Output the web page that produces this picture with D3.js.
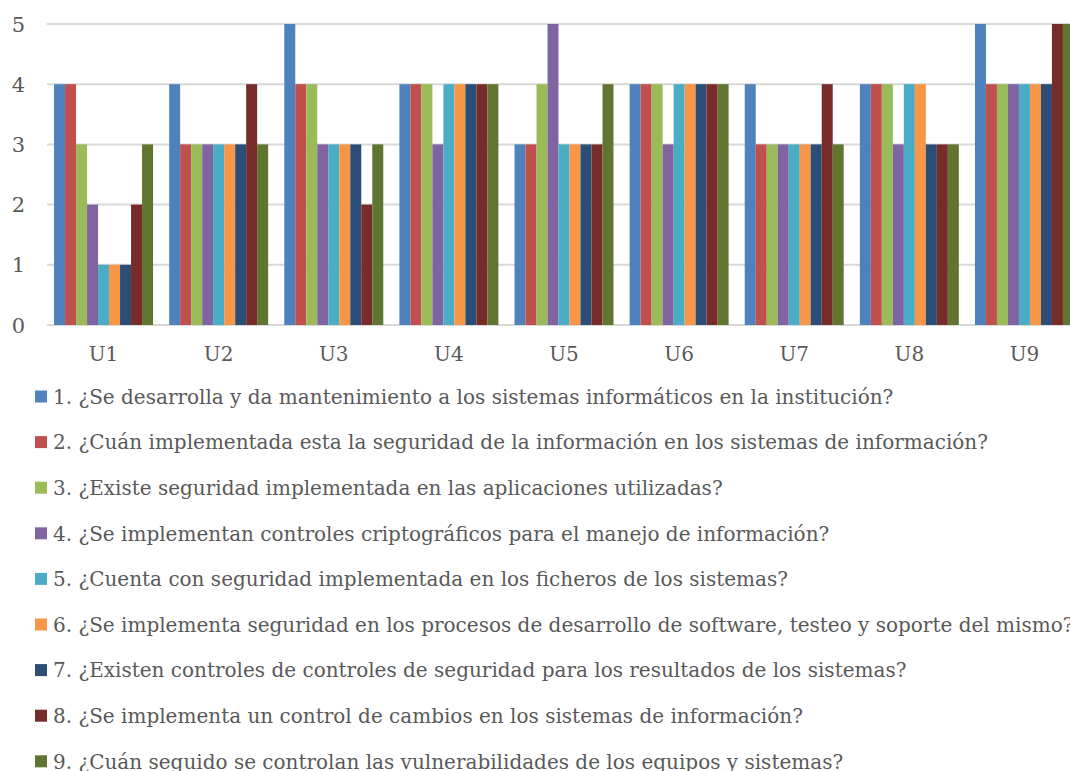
<!DOCTYPE html>
<html>
<head>
<meta charset="utf-8">
<script src="https://cdn.jsdelivr.net/npm/d3@7"></script>
<style>
  html, body { margin: 0; padding: 0; background: #fff; overflow: hidden; }
  svg { display: block; }
  text { font-family: "DejaVu Serif", "Liberation Serif", serif; fill: #595959; }
</style>
</head>
<body>
<svg id="chart" width="1070" height="771"></svg>
<script>
// Survey units (x categories)
const units = ["U1", "U2", "U3", "U4", "U5", "U6", "U7", "U8", "U9"];

// Questions (one series per question)
const questions = [
  "1. ¿Se desarrolla y da mantenimiento a los sistemas informáticos en la institución?",
  "2. ¿Cuán implementada esta la seguridad de la información en los sistemas de información?",
  "3. ¿Existe seguridad implementada en las aplicaciones utilizadas?",
  "4. ¿Se implementan controles criptográficos para el manejo de información?",
  "5. ¿Cuenta con seguridad implementada en los ficheros de los sistemas?",
  "6. ¿Se implementa seguridad en los procesos de desarrollo de software, testeo y soporte del mismo?",
  "7. ¿Existen controles de controles de seguridad para los resultados de los sistemas?",
  "8. ¿Se implementa un control de cambios en los sistemas de información?",
  "9. ¿Cuán seguido se controlan las vulnerabilidades de los equipos y sistemas?"
];

// Scores per question, in unit order U1..U9
const q1 = [4, 4, 5, 4, 3, 4, 4, 4, 5];
const q2 = [4, 3, 4, 4, 3, 4, 3, 4, 4];
const q3 = [3, 3, 4, 4, 4, 4, 3, 4, 4];
const q4 = [2, 3, 3, 3, 5, 3, 3, 3, 4];
const q5 = [1, 3, 3, 4, 3, 4, 3, 4, 4];
const q6 = [1, 3, 3, 4, 3, 4, 3, 4, 4];
const q7 = [1, 3, 3, 4, 3, 4, 3, 3, 4];
const q8 = [2, 4, 2, 4, 3, 4, 4, 3, 5];
const q9 = [3, 3, 3, 4, 4, 4, 3, 3, 5];
const seriesValues = [q1, q2, q3, q4, q5, q6, q7, q8, q9];

const yTicks = [0, 1, 2, 3, 4, 5];

const colors = ["#4F81BD", "#C0504D", "#9BBB59", "#8064A2", "#4BACC6",
                "#F79646", "#2C4D75", "#772C2A", "#5F7530"];

const svg = d3.select("#chart");

const plotLeft = 46, plotRight = 1082, plotTop = 24, plotBottom = 325;

const x0 = d3.scaleBand()
  .domain(units)
  .range([plotLeft, plotRight])
  .paddingInner(0.14)
  .paddingOuter(0.07);

const x1 = d3.scaleBand()
  .domain(d3.range(questions.length))
  .range([0, x0.bandwidth()])
  .padding(0);

const y = d3.scaleLinear()
  .domain([0, 5])
  .range([plotBottom, plotTop]);

// Horizontal gridlines
svg.append("g")
  .selectAll("line")
  .data(yTicks)
  .join("line")
  .attr("x1", plotLeft + 1)
  .attr("x2", 1070)
  .attr("y1", d => y(d))
  .attr("y2", d => y(d))
  .attr("stroke", "#D9D9D9")
  .attr("stroke-width", 2);

// Y axis labels
svg.append("g")
  .selectAll("text")
  .data(yTicks)
  .join("text")
  .attr("x", 25)
  .attr("y", d => y(d))
  .attr("dy", "0.36em")
  .attr("text-anchor", "end")
  .style("font-size", "21px")
  .text(d => d);

// Grouped bars
const groups = svg.append("g")
  .selectAll("g")
  .data(units)
  .join("g")
  .attr("transform", d => `translate(${x0(d)},0)`);

groups.selectAll("rect")
  .data((u, ui) => seriesValues.map((vals, si) => ({ si, v: vals[ui] })))
  .join("rect")
  .attr("x", d => x1(d.si))
  .attr("width", x1.bandwidth())
  .attr("y", d => y(d.v))
  .attr("height", d => y(0) - y(d.v))
  .attr("fill", d => colors[d.si]);

// X axis labels
svg.append("g")
  .selectAll("text")
  .data(units)
  .join("text")
  .attr("x", d => x0(d) + x0.bandwidth() / 2)
  .attr("y", 361)
  .attr("text-anchor", "middle")
  .style("font-size", "20px")
  .text(d => d);

// Legend
const legendTop = 396.5, legendStep = 45.6;
const legend = svg.append("g")
  .selectAll("g")
  .data(questions)
  .join("g")
  .attr("transform", (d, i) => `translate(0,${legendTop + i * legendStep})`);

legend.append("rect")
  .attr("x", 35)
  .attr("y", -6)
  .attr("width", 12)
  .attr("height", 12)
  .attr("fill", (d, i) => colors[i]);

legend.append("text")
  .attr("x", 53)
  .attr("y", 0)
  .attr("dy", "0.36em")
  .style("font-size", "20px")
  .text(d => d);
</script>
</body>
</html>
